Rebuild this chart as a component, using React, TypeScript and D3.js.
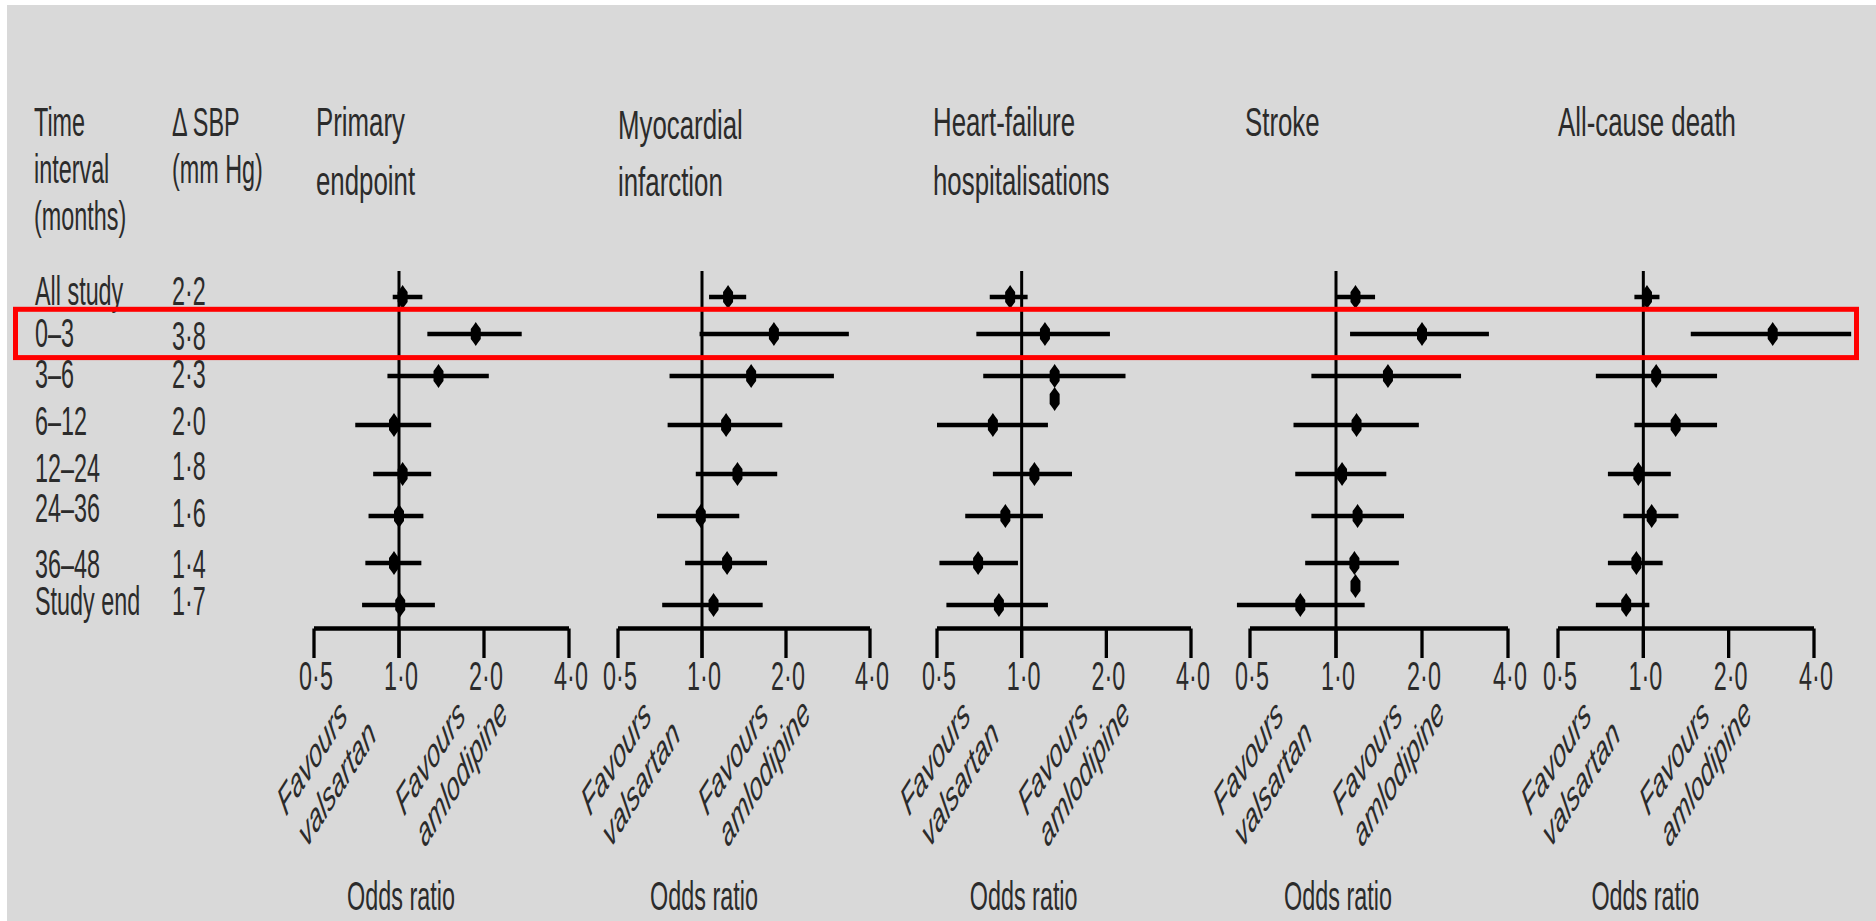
import React, { useEffect } from "react";
import * as d3 from "d3";

// ---------------- data ----------------
const rows = ["All study", "0–3", "3–6", "6–12", "12–24", "24–36", "36–48", "Study end"];
const sbp = ["2·2", "3·8", "2·3", "2·0", "1·8", "1·6", "1·4", "1·7"];
const titles = [
  ["Primary", "endpoint"],
  ["Myocardial", "infarction"],
  ["Heart-failure", "hospitalisations"],
  ["Stroke"],
  ["All-cause death"],
];
const tickValues = [0.5, 1, 2, 4];
const tickLabels = ["0·5", "1·0", "2·0", "4·0"];

const primaryOR = [1.03, 1.87, 1.38, 0.96, 1.03, 1.0, 0.96, 1.01];
const primaryLo = [0.95, 1.26, 0.91, 0.7, 0.81, 0.78, 0.76, 0.74];
const primaryHi = [1.21, 2.72, 2.08, 1.3, 1.3, 1.22, 1.2, 1.34];

const miOR = [1.24, 1.81, 1.5, 1.22, 1.34, 0.99, 1.23, 1.1];
const miLo = [1.06, 0.98, 0.765, 0.753, 0.95, 0.69, 0.87, 0.72];
const miHi = [1.44, 3.36, 2.97, 1.94, 1.86, 1.36, 1.71, 1.65];

const hfOR = [0.91, 1.21, 1.31, 0.79, 1.11, 0.875, 0.7, 0.83];
const hfLo = [0.77, 0.69, 0.73, 0.5, 0.79, 0.63, 0.51, 0.54];
const hfHi = [1.05, 2.06, 2.34, 1.24, 1.51, 1.19, 0.97, 1.24];

const strokeOR = [1.17, 2.0, 1.52, 1.18, 1.05, 1.19, 1.16, 0.75];
const strokeLo = [1.0, 1.12, 0.82, 0.71, 0.72, 0.82, 0.78, 0.45];
const strokeHi = [1.37, 3.43, 2.74, 1.95, 1.5, 1.73, 1.66, 1.26];

const deathOR = [1.03, 2.86, 1.11, 1.3, 0.96, 1.07, 0.945, 0.87];
const deathLo = [0.93, 1.47, 0.68, 0.93, 0.75, 0.85, 0.75, 0.68];
const deathHi = [1.14, 5.41, 1.82, 1.82, 1.25, 1.33, 1.17, 1.05];

// stray point estimates without intervals (panel index, odds ratio)
const extraPanel = [2, 3];
const extraOR = [1.31, 1.17];

const seriesOR = [primaryOR, miOR, hfOR, strokeOR, deathOR];
const seriesLo = [primaryLo, miLo, hfLo, strokeLo, deathLo];
const seriesHi = [primaryHi, miHi, hfHi, strokeHi, deathHi];

// ---------------- layout ----------------
const W = 1876;
const H = 921;
const FS = 41;
const SX = 0.57;
const SX_TITLE = 0.63;
const panelX0 = [314, 618, 937, 1250, 1558];
const panelW = [255, 252, 254, 258, 256];
const titleX = [316, 618, 933, 1245, 1558];
const rowY = [297, 334, 376, 425, 474, 516, 563, 605];
const extraY = [399, 586];
const labelBase = [305, 347, 388, 435, 482, 522, 578, 615];
const sbpBase = [305, 350, 388, 435, 480, 527, 578, 615];
const AXIS_Y = 628.5;
const TICK_BOTTOM = 658;
const REF_TOP = 271;
const TICK_LABEL_Y = 690;
const FAV_Y = 817;
const ODDS_Y = 910;
const INK = "#2b2b2b";
const FONT = "'Liberation Sans', Arial, sans-serif";

function Txt(props: {
  x: number;
  y: number;
  lines: string[];
  sx?: number;
  anchor?: string;
  italic?: boolean;
  rot?: number;
  lh?: number;
  shift?: number;
}) {
  const { x, y, lines, sx = SX, anchor = "start", italic = false, rot = 0, lh = 47, shift = 0 } = props;
  return (
    <text
      transform={`translate(${x},${y}) scale(${sx},1)${rot ? ` rotate(${rot})` : ""}`}
      fontFamily={FONT}
      fontSize={FS}
      fontStyle={italic ? "italic" : "normal"}
      fill={INK}
      textAnchor={anchor}
    >
      {lines.map((l, i) => (
        <tspan key={i} x={i === 0 ? 0 : shift} dy={i === 0 ? 0 : lh}>
          {l}
        </tspan>
      ))}
    </text>
  );
}

function Diamond({ x, y }: { x: number; y: number }) {
  const pts = [
    [0, -12],
    [2, -9],
    [5, -5],
    [5, 5],
    [2, 9],
    [0, 12],
    [-2, 9],
    [-5, 5],
    [-5, -5],
    [-2, -9],
  ]
    .map((p) => `${x + p[0]},${y + p[1]}`)
    .join(" ");
  return <polygon points={pts} fill="#000" />;
}

function Panel({ idx }: { idx: number }) {
  const x = d3
    .scaleLog()
    .domain([0.5, 4])
    .range([panelX0[idx], panelX0[idx] + panelW[idx]]);
  const or = seriesOR[idx];
  const lo = seriesLo[idx];
  const hi = seriesHi[idx];
  const lineH = idx === 0 || idx === 2 ? 59 : 57;
  return (
    <g>
      <Txt x={titleX[idx]} y={idx === 1 ? 139 : 136} lines={titles[idx]} sx={SX_TITLE} lh={lineH} />
      {/* reference line at OR = 1 */}
      <line x1={x(1)} x2={x(1)} y1={REF_TOP} y2={TICK_BOTTOM} stroke="#000" strokeWidth={3} />
      {/* axis */}
      <line x1={x(0.5)} x2={x(4)} y1={AXIS_Y} y2={AXIS_Y} stroke="#000" strokeWidth={4.5} />
      {tickValues.map((t, i) => (
        <g key={i}>
          <line x1={x(t)} x2={x(t)} y1={AXIS_Y} y2={TICK_BOTTOM} stroke="#000" strokeWidth={3.3} />
          <Txt x={x(t) + 2} y={TICK_LABEL_Y} lines={[tickLabels[i]]} anchor="middle" />
        </g>
      ))}
      {/* intervals & points */}
      {or.map((v, i) => (
        <g key={i}>
          <line x1={x(lo[i])} x2={x(hi[i])} y1={rowY[i]} y2={rowY[i]} stroke="#000" strokeWidth={4.5} />
          <Diamond x={x(v)} y={rowY[i]} />
        </g>
      ))}
      {extraPanel.map((p, i) => (p === idx ? <Diamond key={"e" + i} x={x(extraOR[i])} y={extraY[i]} /> : null))}
      {/* favours labels */}
      <Txt x={x(0.5) - 28} y={FAV_Y} lines={["Favours", "valsartan"]} italic rot={-42} lh={48} shift={6} />
      <Txt x={x(1) + 5} y={FAV_Y} lines={["Favours", "amlodipine"]} italic rot={-42} lh={48} shift={6} />
      <Txt x={x(1) + 2} y={ODDS_Y} lines={["Odds ratio"]} anchor="middle" />
    </g>
  );
}

export default function App() {
  useEffect(() => {
    document.body.style.margin = "0";
  }, []);
  return (
    <svg width={W} height={H} style={{ display: "block", background: "#fff" }}>
      <rect x={7} y={5} width={W - 7} height={H - 5} fill="#d9d9d9" />
      <Txt x={34} y={136} lines={["Time", "interval", "(months)"]} lh={47} />
      <Txt x={172} y={136} lines={["Δ SBP", "(mm Hg)"]} lh={47} />
      {rows.map((r, i) => (
        <Txt key={"r" + i} x={35} y={labelBase[i]} lines={[r]} />
      ))}
      {sbp.map((s, i) => (
        <Txt key={"s" + i} x={172} y={sbpBase[i]} lines={[s]} />
      ))}
      {titles.map((_, i) => (
        <Panel key={i} idx={i} />
      ))}
      <rect x={15.5} y={309.3} width={1841} height={48.3} fill="none" stroke="#ff0000" strokeWidth={5} />
    </svg>
  );
}
